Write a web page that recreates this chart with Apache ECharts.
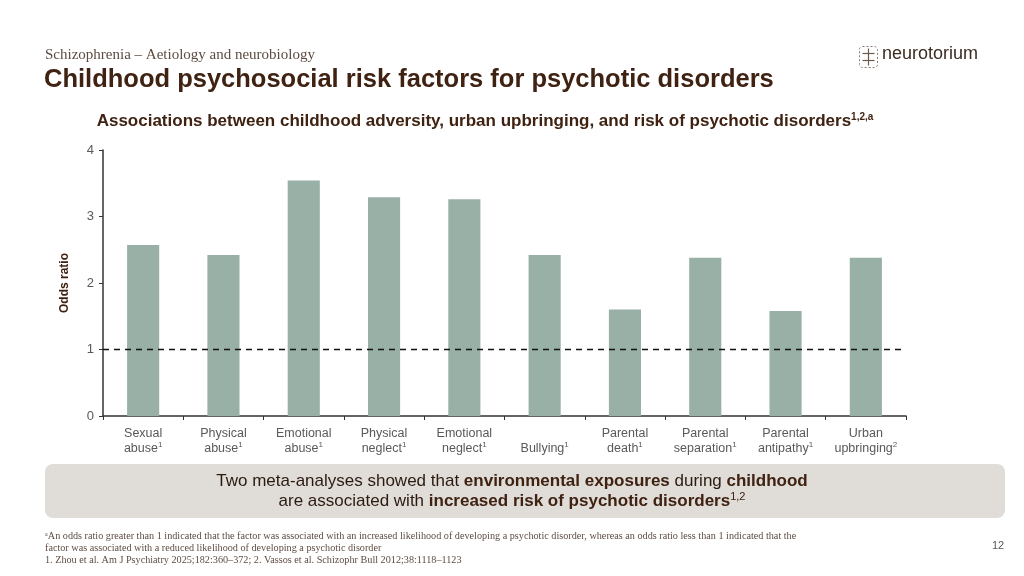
<!DOCTYPE html>
<html><head><meta charset="utf-8">
<script src="https://cdn.jsdelivr.net/npm/echarts@6/dist/echarts.min.js"></script>
<style>html,body{margin:0;padding:0;background:#fff}#c{width:1024px;height:576px}</style>
</head><body><div id="c"></div>
<script>
const categories = [
  ['Sexual', 'abuse', '1'],
  ['Physical', 'abuse', '1'],
  ['Emotional', 'abuse', '1'],
  ['Physical', 'neglect', '1'],
  ['Emotional', 'neglect', '1'],
  ['', 'Bullying', '1'],
  ['Parental', 'death', '1'],
  ['Parental', 'separation', '1'],
  ['Parental', 'antipathy', '1'],
  ['Urban', 'upbringing', '2']
];
const oddsRatios = [2.57, 2.42, 3.54, 3.29, 3.26, 2.42, 1.60, 2.38, 1.58, 2.38];
const referenceLine = 1;
const yTicks = [0, 1, 2, 3, 4];

const brown = '#3f2212';
const chart = echarts.init(document.getElementById('c'));
const catKeys = categories.map((c, i) => String(i));

chart.setOption({
  animation: false,
  grid: { left: 103, right: 118, top: 150, bottom: 160 },
  title: {
    text: 'Associations between childhood adversity, urban upbringing, and risk of psychotic disorders{s|1,2,a}',
    left: 480, top: 107, textAlign: 'center',
    textStyle: {
      fontFamily: 'Liberation Sans Narrow, Liberation Sans, Arial', fontSize: 17, fontWeight: 'bold', color: brown,
      rich: { s: { fontSize: 10, fontWeight: 'bold', color: brown, verticalAlign: 'top', padding: [0,0,8,0], fontFamily: 'Liberation Sans Narrow, Liberation Sans' } }
    }
  },
  xAxis: {
    type: 'category',
    data: catKeys,
    axisLine: { lineStyle: { color: '#333', width: 1.5 } },
    axisTick: { show: true, alignWithLabel: false, lineStyle: { color: '#333' }, length: 4 },
    axisLabel: {
      interval: 0, margin: 10, color: '#595959', fontFamily: 'Liberation Sans, Arial', fontSize: 12.5, lineHeight: 15,
      formatter: function (v) {
        const c = categories[+v];
        return (c[0] ? c[0] + '\n' : '\n') + c[1] + '{s|' + c[2] + '}';
      },
      rich: { s: { fontSize: 8, color: '#595959', verticalAlign: 'top', padding: [0,0,6,0] } }
    }
  },
  yAxis: {
    type: 'value', min: 0, max: 4, interval: 1,
    name: 'Odds ratio', nameLocation: 'middle', nameGap: 32, nameRotate: 90,
    nameTextStyle: { fontFamily: 'Liberation Sans, Arial', fontWeight: 'bold', fontSize: 12, color: brown },
    axisLine: { show: true, lineStyle: { color: '#333', width: 1.5 } },
    axisTick: { show: true, inside: false, length: 4, lineStyle: { color: '#333' } },
    splitLine: { show: false },
    axisLabel: { color: '#595959', fontFamily: 'Liberation Sans, Arial', fontSize: 13, margin: 9,
      formatter: v => yTicks.includes(v) ? String(v) : '' }
  },
  series: [{
    type: 'bar',
    data: oddsRatios,
    barWidth: '40%',
    itemStyle: { color: '#98b0a5' },
    markLine: {
      silent: true, symbol: 'none',
      label: { show: false },
      lineStyle: { color: '#111', type: [6, 5], width: 1.3 },
      data: [{ yAxis: referenceLine }]
    }
  }],
  graphic: [
    { type: 'text', left: 45, top: 48, style: { text: 'Schizophrenia – Aetiology and neurobiology', font: '15px "Liberation Serif", "Times New Roman", serif', fill: '#5e4c42' } },
    { type: 'text', left: 44, top: 67, style: { text: 'Childhood psychosocial risk factors for psychotic disorders', font: 'bold 25.5px "Liberation Sans", Arial, sans-serif', fill: brown } },
    // logo
    { type: 'group', left: 857, top: 44, children: [
      { type: 'rect', shape: { x: 0, y: 0, width: 18, height: 21, r: 3 }, style: { fill: 'none', stroke: '#8a7a70', lineWidth: 1, lineDash: [2, 2] } },
      { type: 'line', shape: { x1: 9, y1: 2, x2: 9, y2: 19 }, style: { stroke: '#6b5a50', lineWidth: 1.2 } },
      { type: 'line', shape: { x1: 3, y1: 7, x2: 15, y2: 7 }, style: { stroke: '#6b5a50', lineWidth: 1.2 } },
      { type: 'line', shape: { x1: 3, y1: 14, x2: 15, y2: 14 }, style: { stroke: '#6b5a50', lineWidth: 1.2 } }
    ]},
    { type: 'text', left: 882, top: 45, style: { text: 'neurotorium', font: '18px "Liberation Sans", Arial, sans-serif', fill: '#3d2b20' } },
    // callout
    { type: 'rect', shape: { x: 45, y: 464, width: 960, height: 54, r: 8 }, style: { fill: '#e0dcd8' } },
    { type: 'text', x: 512, y: 491, style: {
      text: '{n|Two meta-analyses showed that }{b|environmental exposures}{n| during }{b|childhood}\n{n|are associated with }{b|increased risk of psychotic disorders}{s|1,2}',
      align: 'center', verticalAlign: 'middle', lineHeight: 20,
      rich: {
        n: { font: '17px "Liberation Sans", Arial, sans-serif', fill: '#2b1a10', lineHeight: 20 },
        b: { font: 'bold 17px "Liberation Sans", Arial, sans-serif', fill: '#3f2212', lineHeight: 20 },
        s: { font: '11px "Liberation Sans", Arial, sans-serif', fill: '#3f2212', verticalAlign: 'top', padding: [0,0,8,0], lineHeight: 20 }
      } } },
    // footnotes
    { type: 'text', left: 45, top: 531, style: { text: 'ᵃAn odds ratio greater than 1 indicated that the factor was associated with an increased likelihood of developing a psychotic disorder, whereas an odds ratio less than 1 indicated that the', font: '10.2px "Liberation Serif", "Times New Roman", serif', fill: '#5e4c42' } },
    { type: 'text', left: 45, top: 543, style: { text: 'factor was associated with a reduced likelihood of developing a psychotic disorder', font: '10.2px "Liberation Serif", "Times New Roman", serif', fill: '#5e4c42' } },
    { type: 'text', left: 45, top: 555, style: { text: '1. Zhou et al. Am J Psychiatry 2025;182:360–372; 2. Vassos et al. Schizophr Bull 2012;38:1118–1123', font: '10.2px "Liberation Serif", "Times New Roman", serif', fill: '#5e4c42' } },
    { type: 'text', left: 992, top: 540, style: { text: '12', font: '11px "Liberation Sans", Arial, sans-serif', fill: '#595959' } }
  ]
});
</script></body></html>
